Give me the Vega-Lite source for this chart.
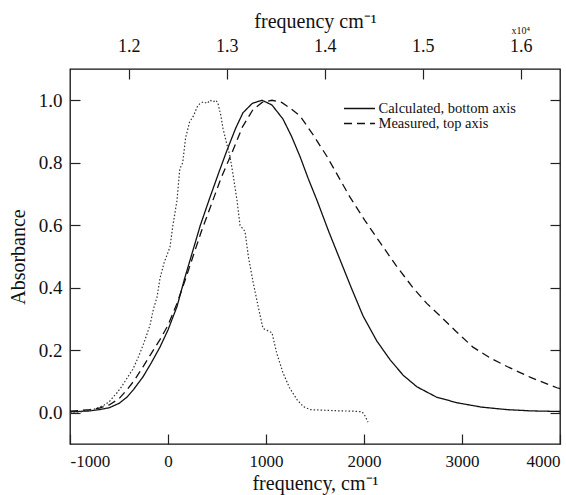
{
  "$schema": "https://vega.github.io/schema/vega-lite/v6.json",
  "width": 490,
  "height": 375,
  "autosize": {"type": "none"},
  "padding": {"left": 70, "top": 69, "right": 6, "bottom": 51},
  "background": "white",
  "config": {
    "view": {"stroke": "#111", "strokeWidth": 1.3},
    "font": "Liberation Serif",
    "axis": {
      "grid": false,
      "domain": false,
      "tickColor": "#222",
      "tickWidth": 1.2,
      "tickSize": -10,
      "labelColor": "#111",
      "titleColor": "#111",
      "labelFont": "Liberation Serif",
      "titleFont": "Liberation Serif",
      "labelFontSize": 17,
      "titleFontSize": 20,
      "titleFontWeight": "normal"
    },
    "legend": {
      "orient": "none",
      "legendX": 281,
      "legendY": 31,
      "symbolType": "M-2,0H2",
      "symbolSize": 240,
      "symbolStrokeWidth": 1.3,
      "symbolStrokeColor": "#111",
      "symbolFillColor": "transparent",
      "labelFont": "Liberation Serif",
      "labelFontSize": 14.5,
      "labelColor": "#111",
      "labelOffset": 10.5,
      "rowPadding": -3
    }
  },
  "layer": [
    {
      "layer": [
        {
          "data": {"values": [
            {"f": -1000, "a": 0.003}, {"f": -800, "a": 0.006}, {"f": -700, "a": 0.01}, {"f": -600, "a": 0.016},
            {"f": -500, "a": 0.03}, {"f": -418, "a": 0.05}, {"f": -350, "a": 0.075}, {"f": -255, "a": 0.115},
            {"f": -170, "a": 0.16}, {"f": -82, "a": 0.21}, {"f": 0, "a": 0.265}, {"f": 92, "a": 0.34},
            {"f": 170, "a": 0.43}, {"f": 255, "a": 0.52}, {"f": 330, "a": 0.6}, {"f": 429, "a": 0.69},
            {"f": 520, "a": 0.77}, {"f": 602, "a": 0.84}, {"f": 690, "a": 0.91}, {"f": 765, "a": 0.96},
            {"f": 860, "a": 0.99}, {"f": 959, "a": 1.0}, {"f": 1060, "a": 0.985}, {"f": 1173, "a": 0.94},
            {"f": 1260, "a": 0.885}, {"f": 1347, "a": 0.82}, {"f": 1430, "a": 0.75}, {"f": 1520, "a": 0.68},
            {"f": 1640, "a": 0.58}, {"f": 1755, "a": 0.49}, {"f": 1870, "a": 0.4}, {"f": 1990, "a": 0.31},
            {"f": 2130, "a": 0.23}, {"f": 2265, "a": 0.17}, {"f": 2400, "a": 0.12}, {"f": 2540, "a": 0.083},
            {"f": 2740, "a": 0.05}, {"f": 2949, "a": 0.032}, {"f": 3200, "a": 0.018}, {"f": 3459, "a": 0.01},
            {"f": 3700, "a": 0.006}, {"f": 4000, "a": 0.004}
          ]},
          "transform": [{"calculate": "'Calculated, bottom axis'", "as": "series"}],
          "mark": {"type": "line", "strokeWidth": 1.3, "color": "#111"},
          "encoding": {
            "x": {"field": "f", "type": "quantitative",
                  "scale": {"domain": [-1000, 4000], "nice": false, "zero": false},
                  "axis": {"orient": "bottom", "title": "frequency, cm⁻¹", "values": [-1000, 0, 1000, 2000, 3000, 4000],
                           "labelExpr": "datum.value < 0 ? '-' + format(-datum.value, 'd') : format(datum.value, 'd')",
                           "labelFlush": true, "labelPadding": 19, "titlePadding": 4}},
            "y": {"field": "a", "type": "quantitative",
                  "scale": {"domain": [-0.1, 1.1], "nice": false, "zero": false},
                  "axis": {"orient": "left", "title": "Absorbance", "values": [0, 0.2, 0.4, 0.6, 0.8, 1.0],
                           "format": ".1f", "labelFontSize": 19, "labelPadding": 18, "titlePadding": 10}},
            "strokeDash": {"field": "series", "type": "nominal",
                           "scale": {"domain": ["Calculated, bottom axis", "Measured, top axis"], "range": [[1, 0], [8, 5]]},
                           "legend": {"title": null}}
          }
        },
        {
          "data": {"values": [
            {"f": -1000, "a": 0.0}, {"f": -950, "a": 0.003}, {"f": -900, "a": 0.002}, {"f": -850, "a": 0.006},
            {"f": -800, "a": 0.005}, {"f": -750, "a": 0.012}, {"f": -700, "a": 0.018}, {"f": -650, "a": 0.025},
            {"f": -600, "a": 0.035}, {"f": -560, "a": 0.05}, {"f": -520, "a": 0.064}, {"f": -470, "a": 0.085},
            {"f": -420, "a": 0.11}, {"f": -357, "a": 0.14}, {"f": -300, "a": 0.18}, {"f": -250, "a": 0.22},
            {"f": -200, "a": 0.265}, {"f": -184, "a": 0.28}, {"f": -150, "a": 0.33}, {"f": -112, "a": 0.37},
            {"f": -82, "a": 0.43}, {"f": -40, "a": 0.48}, {"f": 20, "a": 0.53}, {"f": 50, "a": 0.6},
            {"f": 92, "a": 0.68}, {"f": 120, "a": 0.78}, {"f": 150, "a": 0.8}, {"f": 180, "a": 0.88},
            {"f": 220, "a": 0.93}, {"f": 260, "a": 0.95}, {"f": 300, "a": 0.98}, {"f": 327, "a": 0.99},
            {"f": 360, "a": 0.995}, {"f": 400, "a": 0.99}, {"f": 429, "a": 1.0}, {"f": 460, "a": 0.995},
            {"f": 490, "a": 1.0}, {"f": 510, "a": 0.99}, {"f": 540, "a": 0.95}, {"f": 561, "a": 0.91},
            {"f": 600, "a": 0.86}, {"f": 633, "a": 0.82}, {"f": 670, "a": 0.75}, {"f": 704, "a": 0.68},
            {"f": 735, "a": 0.6}, {"f": 786, "a": 0.58}, {"f": 820, "a": 0.5}, {"f": 867, "a": 0.42},
            {"f": 920, "a": 0.34}, {"f": 969, "a": 0.27}, {"f": 1061, "a": 0.256}, {"f": 1110, "a": 0.19},
            {"f": 1173, "a": 0.128}, {"f": 1240, "a": 0.08}, {"f": 1316, "a": 0.042}, {"f": 1380, "a": 0.02},
            {"f": 1449, "a": 0.01}, {"f": 1600, "a": 0.008}, {"f": 1755, "a": 0.006}, {"f": 1900, "a": 0.005},
            {"f": 1980, "a": 0.003}, {"f": 2010, "a": -0.01}, {"f": 2041, "a": -0.03}
          ]},
          "mark": {"type": "line", "strokeWidth": 1.2, "color": "#333", "strokeDash": [1.5, 2]},
          "encoding": {
            "x": {"field": "f", "type": "quantitative"},
            "y": {"field": "a", "type": "quantitative"}
          }
        }
      ]
    },
    {
      "layer": [
        {
          "data": {"values": [
            {"ft": 11400, "a": 0.005}, {"ft": 11600, "a": 0.01}, {"ft": 11700, "a": 0.015}, {"ft": 11800, "a": 0.025},
            {"ft": 11900, "a": 0.045}, {"ft": 11982, "a": 0.074}, {"ft": 12060, "a": 0.105}, {"ft": 12145, "a": 0.147},
            {"ft": 12230, "a": 0.19}, {"ft": 12318, "a": 0.234}, {"ft": 12400, "a": 0.28}, {"ft": 12492, "a": 0.35},
            {"ft": 12570, "a": 0.42}, {"ft": 12655, "a": 0.5}, {"ft": 12740, "a": 0.58}, {"ft": 12829, "a": 0.655},
            {"ft": 12940, "a": 0.75}, {"ft": 13063, "a": 0.84}, {"ft": 13160, "a": 0.915}, {"ft": 13267, "a": 0.97},
            {"ft": 13360, "a": 0.993}, {"ft": 13461, "a": 1.0}, {"ft": 13560, "a": 0.993}, {"ft": 13645, "a": 0.975},
            {"ft": 13747, "a": 0.95}, {"ft": 13880, "a": 0.89}, {"ft": 14022, "a": 0.82}, {"ft": 14140, "a": 0.755},
            {"ft": 14257, "a": 0.69}, {"ft": 14410, "a": 0.615}, {"ft": 14563, "a": 0.545}, {"ft": 14730, "a": 0.47},
            {"ft": 14900, "a": 0.4}, {"ft": 15040, "a": 0.35}, {"ft": 15176, "a": 0.31}, {"ft": 15340, "a": 0.26},
            {"ft": 15512, "a": 0.21}, {"ft": 15690, "a": 0.175}, {"ft": 15859, "a": 0.148}, {"ft": 16100, "a": 0.113},
            {"ft": 16369, "a": 0.08}, {"ft": 16400, "a": 0.077}
          ]},
          "transform": [{"calculate": "'Measured, top axis'", "as": "series"}],
          "mark": {"type": "line", "strokeWidth": 1.3, "color": "#111"},
          "encoding": {
            "x": {"field": "ft", "type": "quantitative",
                  "scale": {"domain": [11400, 16400], "nice": false, "zero": false},
                  "axis": {"orient": "top", "title": "frequency cm⁻¹", "values": [12000, 13000, 14000, 15000, 16000],
                           "labelExpr": "format(datum.value / 10000, '.1f')", "labelFontSize": 18,
                           "labelPadding": 24, "titlePadding": 6}},
            "y": {"field": "a", "type": "quantitative",
                  "axis": {"orient": "right", "title": null, "labels": false, "values": [0, 0.2, 0.4, 0.6, 0.8, 1.0]}},
            "strokeDash": {"field": "series", "type": "nominal"}
          }
        },
        {
          "data": {"values": [{"ft": 16000, "a": 1.1, "label": "x10⁴"}]},
          "mark": {"type": "text", "dy": -38, "fontSize": 10, "font": "Liberation Serif", "color": "#111"},
          "encoding": {
            "x": {"field": "ft", "type": "quantitative"},
            "y": {"field": "a", "type": "quantitative"},
            "text": {"field": "label"}
          }
        }
      ]
    }
  ],
  "resolve": {"scale": {"x": "independent"}, "axis": {"x": "independent", "y": "independent"}}
}
